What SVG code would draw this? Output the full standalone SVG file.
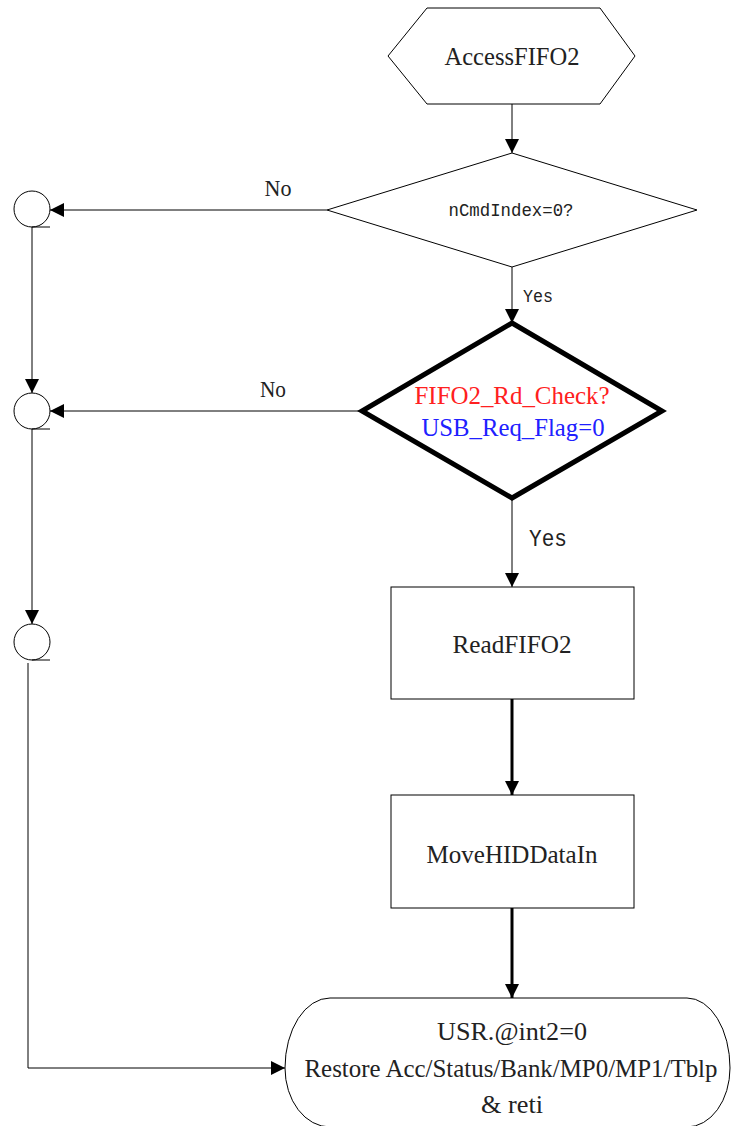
<svg xmlns="http://www.w3.org/2000/svg" width="731" height="1126" viewBox="0 0 731 1126">
<style>
.shape{fill:#fff;stroke:#000;stroke-width:1}
.thick{fill:#fff;stroke:#000;stroke-width:5;stroke-linejoin:miter}
.line{fill:none;stroke:#000;stroke-width:1}
.bold{fill:none;stroke:#000;stroke-width:3}
.serif{font-family:"Liberation Serif","Times New Roman",serif;fill:#222;text-anchor:middle}
.mono{font-family:"Liberation Mono","Courier New",monospace;fill:#222;text-anchor:middle}
</style>
<defs>
<marker id="arr" markerUnits="userSpaceOnUse" markerWidth="14" markerHeight="14" refX="14" refY="7" orient="auto">
<path d="M0,0 L14,7 L0,14 z" fill="#000"/>
</marker>
</defs>
<g id="connectors">
<line class="line" x1="512" y1="104" x2="512" y2="153" marker-end="url(#arr)"/>
<line class="line" x1="327" y1="210" x2="50" y2="210" marker-end="url(#arr)"/>
<line class="line" x1="512" y1="267" x2="512" y2="323" marker-end="url(#arr)"/>
<line class="line" x1="362" y1="411" x2="50" y2="411" marker-end="url(#arr)"/>
<line class="line" x1="32" y1="227" x2="32" y2="393" marker-end="url(#arr)"/>
<line class="line" x1="32" y1="429" x2="32" y2="624" marker-end="url(#arr)"/>
<line class="line" x1="512" y1="499" x2="512" y2="587" marker-end="url(#arr)"/>
<polyline class="line" points="28,663 28,1068 285,1068" marker-end="url(#arr)"/>
<line class="bold" x1="512" y1="699" x2="512" y2="795" marker-end="url(#arr)"/>
<line class="bold" x1="512" y1="908" x2="512" y2="998" marker-end="url(#arr)"/>
<text class="serif" x="278" y="196" font-size="24" textLength="27" lengthAdjust="spacingAndGlyphs">No</text>
<text class="mono" x="538" y="302" font-size="19" textLength="30" lengthAdjust="spacingAndGlyphs">Yes</text>
<text class="serif" x="273" y="397" font-size="24" textLength="26" lengthAdjust="spacingAndGlyphs">No</text>
<text class="mono" x="548" y="546" font-size="23" textLength="38" lengthAdjust="spacingAndGlyphs">Yes</text>
</g>
<g id="start">
<polygon class="shape" points="427,8 600,8 635,56 600,104 427,104 388,56"/>
<text class="serif" x="512" y="65" font-size="25" textLength="135" lengthAdjust="spacingAndGlyphs">AccessFIFO2</text>
</g>
<g id="decision1">
<polygon class="shape" points="512,153 697,210 512,267 327,210"/>
<text class="mono" x="511" y="216" font-size="18" textLength="125" lengthAdjust="spacingAndGlyphs">nCmdIndex=0?</text>
</g>
<g id="decision2">
<polygon class="thick" points="512,323 662,411 512,498 362,411"/>
<text class="serif" x="512" y="404" font-size="25" fill="#ff2020" style="fill:#ff2020" textLength="195" lengthAdjust="spacingAndGlyphs">FIFO2_Rd_Check?</text>
<text class="serif" x="513" y="436" font-size="25" style="fill:#2020ff" textLength="183" lengthAdjust="spacingAndGlyphs">USB_Req_Flag=0</text>
</g>
<g id="conn1">
<circle class="shape" cx="32" cy="209" r="18"/>
<line class="line" x1="32" y1="227" x2="50" y2="227"/>
</g>
<g id="conn2">
<circle class="shape" cx="32" cy="411" r="18"/>
<line class="line" x1="32" y1="429" x2="50" y2="429"/>
</g>
<g id="conn3">
<circle class="shape" cx="32" cy="642" r="18"/>
<line class="line" x1="32" y1="660" x2="50" y2="660"/>
</g>
<g id="readfifo2">
<rect class="shape" x="391" y="587" width="243" height="112"/>
<text class="serif" x="512" y="653" font-size="25" textLength="119" lengthAdjust="spacingAndGlyphs">ReadFIFO2</text>
</g>
<g id="movehiddatain">
<rect class="shape" x="391" y="795" width="243" height="113"/>
<text class="serif" x="512" y="863" font-size="25" textLength="171" lengthAdjust="spacingAndGlyphs">MoveHIDDataIn</text>
</g>
<g id="end">
<path class="shape" d="M330,998 L687,998 A43,70 0 0 1 730,1068 A43,59 0 0 1 687,1127 L330,1127 A45,59 0 0 1 285,1068 A45,70 0 0 1 330,998 Z"/>
<text class="serif" x="512" y="1040" font-size="25" textLength="150" lengthAdjust="spacingAndGlyphs">USR.@int2=0</text>
<text class="serif" x="511" y="1077" font-size="25" textLength="413" lengthAdjust="spacingAndGlyphs">Restore Acc/Status/Bank/MP0/MP1/Tblp</text>
<text class="serif" x="512" y="1113" font-size="25" textLength="62" lengthAdjust="spacingAndGlyphs">&amp; reti</text>
</g>
</svg>
